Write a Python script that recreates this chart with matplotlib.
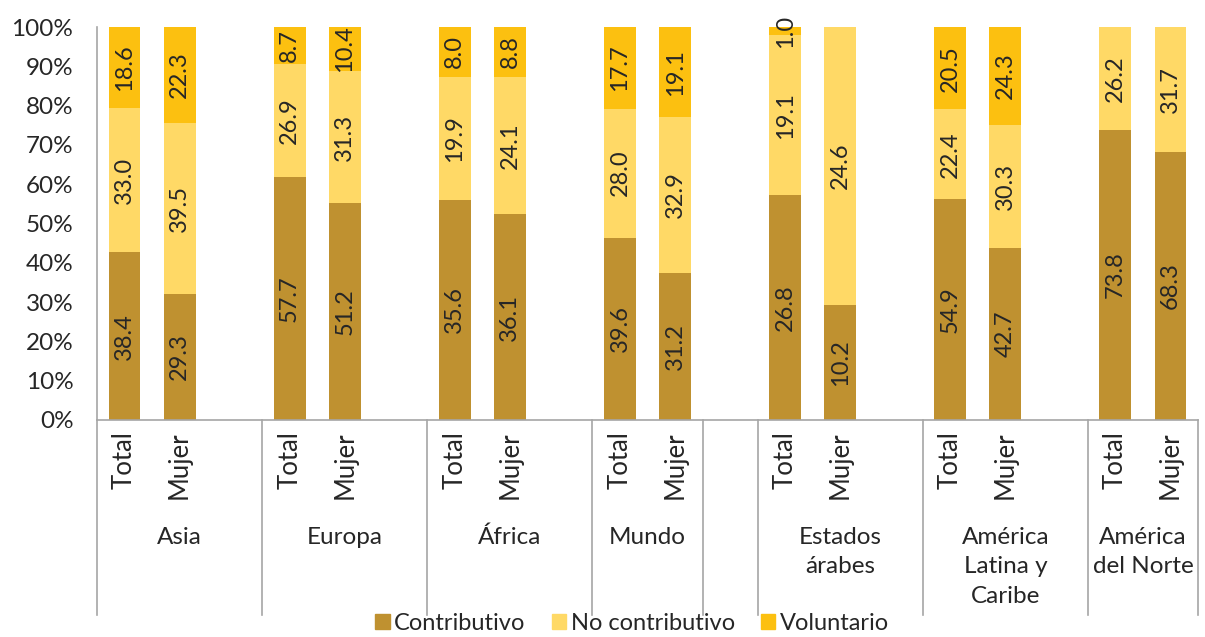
import numpy as np
import matplotlib
matplotlib.use("Agg")
import matplotlib.pyplot as plt
from matplotlib.patches import Patch

plt.rcParams['font.family'] = ['Lato', 'DejaVu Sans']

# =========================
# datos (valores sin normalizar, barras al 100%)
# =========================
regiones = ["Asia", "Europa", "África", "Mundo", "", "Estados\nárabes",
            "América\nLatina y\nCaribe", "América\ndel Norte"]
ranuras_por_region = [3, 3, 3, 2, 1, 3, 3, 2]
sub_etiquetas = ["Total", "Mujer", ""] * 6 + ["Total", "Mujer"]

contributivo    = [38.4, 29.3, np.nan, 57.7, 51.2, np.nan, 35.6, 36.1, np.nan,
                   39.6, 31.2, np.nan, 26.8, 10.2, np.nan, 54.9, 42.7, np.nan, 73.8, 68.3]
no_contributivo = [33.0, 39.5, np.nan, 26.9, 31.3, np.nan, 19.9, 24.1, np.nan,
                   28.0, 32.9, np.nan, 19.1, 24.6, np.nan, 22.4, 30.3, np.nan, 26.2, 31.7]
voluntario      = [18.6, 22.3, np.nan, 8.7, 10.4, np.nan, 8.0, 8.8, np.nan,
                   17.7, 19.1, np.nan, 1.0, 0.0, np.nan, 20.5, 24.3, np.nan, 0.0, 0.0]

series = [("Contributivo", contributivo, "#BF9130"),
          ("No contributivo", no_contributivo, "#FFD966"),
          ("Voluntario", voluntario, "#FCC010")]

# =========================
# figura
# =========================
fig = plt.figure(figsize=(12.05, 6.37), dpi=100)
ax = fig.add_axes([97 / 1205, 1 - 420 / 637, 1101 / 1205, 393 / 637])

vals = np.array([s[1] for s in series], dtype=float)
total = np.nansum(vals, axis=0)
x = np.arange(len(sub_etiquetas)) + 0.5
txt_color = "#262626"

bottom = np.zeros(len(x))
for nombre, v, color in series:
    v = np.array(v, dtype=float)
    pct = np.where(np.isnan(v), 0, v) / np.where(total == 0, 1, total) * 100
    ax.bar(x, pct, bottom=bottom, width=0.58, color=color, linewidth=0)
    for xi, b, p, raw in zip(x, bottom, pct, v):
        if not np.isnan(raw) and raw > 0:
            ax.text(xi, b + p / 2, f"{raw:.1f}", rotation=90, ha="center",
                    va="center", fontsize=17, color=txt_color)
    bottom = bottom + pct

ax.set_xlim(0, len(sub_etiquetas))
ax.set_ylim(0, 100)
ax.set_yticks(np.arange(0, 101, 10))
ax.set_yticklabels([f"{t}%" for t in range(0, 101, 10)], fontsize=17.5, color=txt_color)
ax.tick_params(axis="y", length=0, pad=17)
ax.set_xticks([])
for s in ["top", "right"]:
    ax.spines[s].set_visible(False)
for s in ["left", "bottom"]:
    ax.spines[s].set_color("#A6A6A6")
    ax.spines[s].set_linewidth(1.2)

# etiquetas de categoría de dos niveles
for xi, lab in zip(x, sub_etiquetas):
    if lab:
        ax.text(xi, -0.028, lab, rotation=90, ha="center", va="top",
                fontsize=18.5, color=txt_color, transform=ax.get_xaxis_transform())

bordes = np.concatenate([[0], np.cumsum(ranuras_por_region)])
for b in bordes:
    ax.plot([b, b], [0, -0.496], color="#A6A6A6", lw=1.2, clip_on=False,
            transform=ax.get_xaxis_transform())
for i, reg in enumerate(regiones):
    centro = (bordes[i] + bordes[i + 1]) / 2
    ax.text(centro, -0.272, reg, ha="center", va="top", fontsize=17.5,
            color=txt_color, linespacing=1.5, transform=ax.get_xaxis_transform())

handles = [Patch(color=c, label=n) for n, _, c in series]
fig.legend(handles=handles, loc="lower center", bbox_to_anchor=(632 / 1205, -0.028),
           ncol=3, frameon=False, fontsize=17, handlelength=0.6, handleheight=0.6,
           handletextpad=0.2, columnspacing=1.1, labelcolor=txt_color)

plt.savefig("out.png", dpi=100)
